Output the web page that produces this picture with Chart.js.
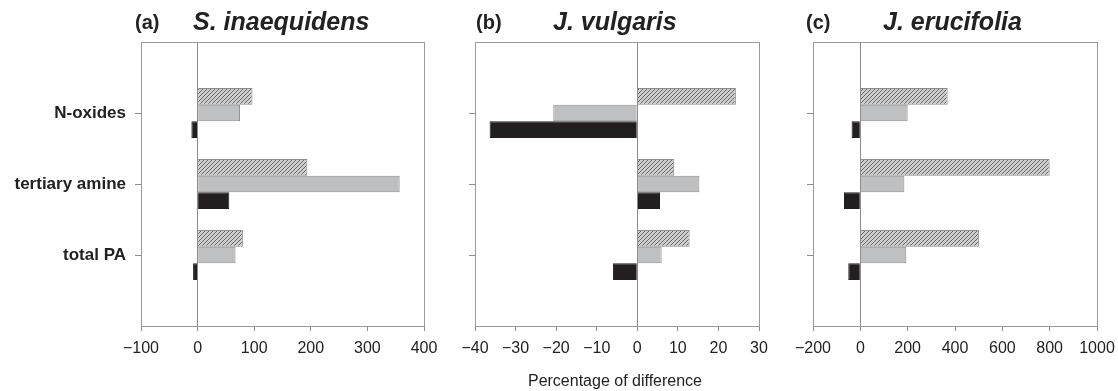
<!DOCTYPE html>
<html>
<head>
<meta charset="utf-8">
<script src="https://cdn.jsdelivr.net/npm/chart.js@4.4.1/dist/chart.umd.min.js"></script>
<style>
    html, body { margin: 0; padding: 0; background: #fff; }
    body { width: 1118px; height: 391px; position: relative; overflow: hidden; font-family: "Liberation Sans", Arial, sans-serif; }
    .panel { position: absolute; top: 0; height: 391px; }
    .lab, .sp { position: absolute; top: 7px; font-weight: bold; color: #222; white-space: nowrap; }
    .lab { font-size: 20px; top: 11px; }
    .sp { font-size: 25px; font-style: italic; }
    #xlabel { position: absolute; top: 372px; left: 0; width: 1230px; text-align: center; font-size: 16px; color: #222; }
</style>
</head>
<body>
<div class="panel" style="left:0;width:440px"><canvas id="chartA"></canvas></div>
<div class="panel" style="left:440px;width:340px"><canvas id="chartB"></canvas></div>
<div class="panel" style="left:780px;width:338px"><canvas id="chartC"></canvas></div>
<div class="lab" style="left:135px">(a)</div>
<div class="sp" style="left:193px">S. inaequidens</div>
<div class="lab" style="left:476px">(b)</div>
<div class="sp" style="left:553px">J. vulgaris</div>
<div class="lab" style="left:806px">(c)</div>
<div class="sp" style="left:883px">J. erucifolia</div>
<div id="xlabel">Percentage of difference</div>

<script>
// categories (top to bottom)
const categories = ["N-oxides", "tertiary amine", "total PA"];

// S. inaequidens - percentage of difference
const inaeqHatched = [97, 194, 80];
const inaeqGrey = [75, 357, 67];
const inaeqBlack = [-11, 56, -8];

// J. vulgaris
const vulgHatched = [24.3, 9.1, 12.9];
const vulgGrey = [-20.7, 15.3, 6.0];
const vulgBlack = [-36.4, 5.6, -6.0];

// J. erucifolia
const erucHatched = [369, 800, 501];
const erucGrey = [200, 186, 194];
const erucBlack = [-37, -69, -51];

// x axis ranges / ticks
const inaeqTicks = [-100, 0, 100, 200, 300, 400];
const vulgTicks = [-40, -30, -20, -10, 0, 10, 20, 30];
const erucTicks = [-200, 0, 200, 400, 600, 800, 1000];

// pad the category axis with an empty slot above and below
const paddedLabels = [""].concat(categories, [""]);
function pad(arr) {
    return [null].concat(arr, [null]);
}

// hatched fill pattern
function makeHatch() {
    const c = document.createElement("canvas");
    c.width = 4;
    c.height = 4;
    const g = c.getContext("2d");
    g.fillStyle = "#cdcdcd";
    g.fillRect(0, 0, 4, 4);
    g.strokeStyle = "#666";
    g.lineWidth = 1;
    g.beginPath();
    g.moveTo(0, 4); g.lineTo(4, 0);
    g.moveTo(-1, 1); g.lineTo(1, -1);
    g.moveTo(3, 5); g.lineTo(5, 3);
    g.stroke();
    return g.createPattern(c, "repeat");
}
const hatch = makeHatch();

// frame around the plot area
const framePlugin = {
    id: "frame",
    afterDatasetsDraw(chart) {
        const a = chart.chartArea;
        const ctx = chart.ctx;
        ctx.save();
        ctx.strokeStyle = "#9a9a9a";
        ctx.lineWidth = 1;
        ctx.strokeRect(Math.round(a.left) + 0.5, Math.round(a.top) + 0.5,
            Math.round(a.right - a.left), Math.round(a.bottom - a.top));
        ctx.restore();
    }
};

function buildChart(id, hatched, grey, black, ticks, yWidth, padRight, showLabels) {
    const ctx = document.getElementById(id).getContext("2d");
    return new Chart(ctx, {
        type: "bar",
        data: {
            labels: paddedLabels,
            datasets: [
                { label: "hatched", data: pad(hatched), backgroundColor: hatch, borderColor: "#8c8c8c", borderWidth: 1 },
                { label: "grey", data: pad(grey), backgroundColor: "#bfc0c2", borderColor: "#8c8c8c", borderWidth: 1 },
                { label: "black", data: pad(black), backgroundColor: "#231f20", borderColor: "#231f20", borderWidth: 1 }
            ]
        },
        options: {
            indexAxis: "y",
            responsive: false,
            animation: false,
            categoryPercentage: 0.704,
            barPercentage: 1.0,
            layout: { padding: { top: 42, right: padRight, bottom: 25, left: 0 } },
            scales: {
                x: {
                    type: "linear",
                    min: ticks[0],
                    max: ticks[ticks.length - 1],
                    afterBuildTicks: scale => { scale.ticks = ticks.map(v => ({ value: v })); },
                    afterFit: scale => {
                        scale.height = 40;
                        scale.paddingLeft = 0;
                        scale.paddingRight = 0;
                    },
                    grid: {
                        drawOnChartArea: true,
                        color: c => (c.tick && c.tick.value === 0 ? "#8c8c8c" : "transparent"),
                        tickColor: "#8c8c8c",
                        tickLength: 5
                    },
                    border: { display: false },
                    ticks: {
                        color: "#222",
                        font: { family: "Liberation Sans", size: 16 },
                        padding: 8,
                        maxRotation: 0,
                        callback: v => (v < 0 ? "\u2212" + Math.abs(v) : String(v))
                    }
                },
                y: {
                    type: "category",
                    offset: false,
                    afterFit: scale => {
                        scale.width = yWidth;
                        scale.paddingTop = 0;
                        scale.paddingBottom = 0;
                    },
                    grid: {
                        drawOnChartArea: false,
                        offset: false,
                        tickColor: c => (c.index === 0 || c.index === paddedLabels.length - 1 ? "transparent" : "#8c8c8c"),
                        tickLength: 6
                    },
                    border: { display: false },
                    ticks: {
                        display: showLabels,
                        color: "#222",
                        font: { family: "Liberation Sans", size: 17, weight: "bold" },
                        padding: 9,
                        autoSkip: false
                    }
                }
            },
            plugins: {
                legend: { display: false },
                tooltip: { enabled: false }
            }
        },
        plugins: [framePlugin]
    });
}

function sizeCanvas(id, w) {
    const cv = document.getElementById(id);
    cv.width = w;
    cv.height = 391;
    cv.style.width = w + "px";
    cv.style.height = "391px";
}

sizeCanvas("chartA", 440);
sizeCanvas("chartB", 340);
sizeCanvas("chartC", 338);

buildChart("chartA", inaeqHatched, inaeqGrey, inaeqBlack, inaeqTicks, 141, 16, true);
buildChart("chartB", vulgHatched, vulgGrey, vulgBlack, vulgTicks, 35, 21, false);
buildChart("chartC", erucHatched, erucGrey, erucBlack, erucTicks, 33, 21, false);
</script>
</body>
</html>
